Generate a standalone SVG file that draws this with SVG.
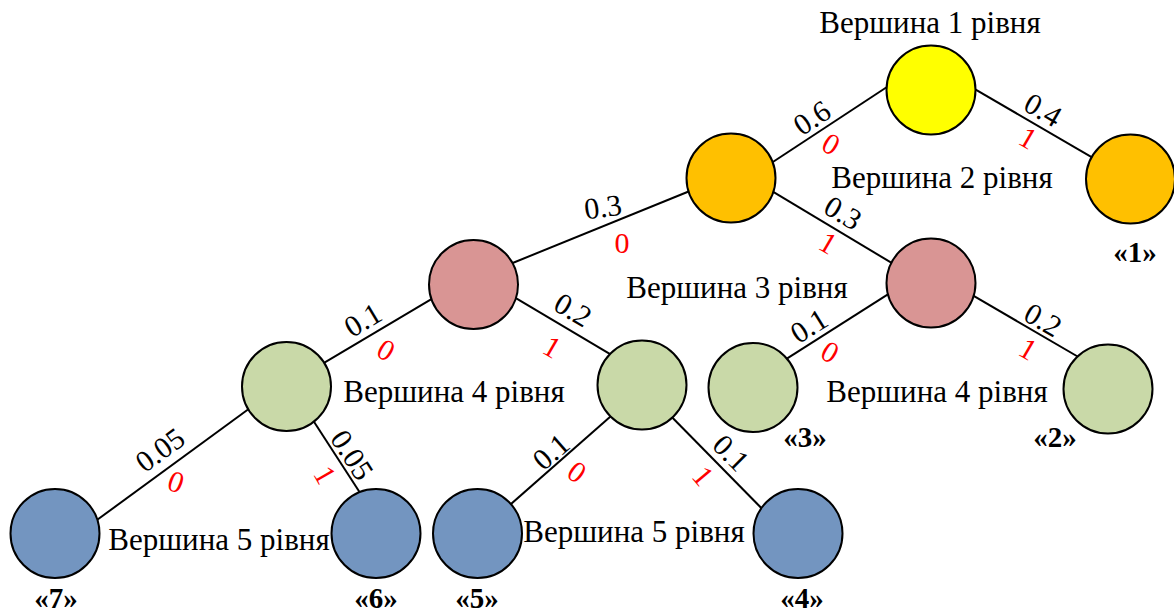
<svg xmlns="http://www.w3.org/2000/svg" width="1174" height="615" viewBox="0 0 1174 615">
  <rect width="1174" height="615" fill="#FFFFFF"/>

  <!-- tree edges -->
  <g id="connectors" stroke="#000000" stroke-width="2" fill="none">
    <line x1="890" y1="85" x2="768.3" y2="165"/>
    <line x1="970.1" y1="86.3" x2="1095.9" y2="159.7"/>
    <line x1="769.9" y1="189.9" x2="895.8" y2="265.4"/>
    <line x1="692.3" y1="190" x2="507.7" y2="265"/>
    <line x1="512.5" y1="296.2" x2="615.2" y2="357.1"/>
    <line x1="435.2" y1="296.9" x2="319.8" y2="365.4"/>
    <line x1="891.8" y1="291.8" x2="784.9" y2="359.9"/>
    <line x1="969.8" y1="293.7" x2="1081.9" y2="359"/>
    <line x1="252.1" y1="406.5" x2="94.5" y2="521.8"/>
    <line x1="311.7" y1="418.3" x2="362.6" y2="496.7"/>
    <line x1="612.2" y1="415" x2="507.2" y2="507.3"/>
    <line x1="669.8" y1="415" x2="764.2" y2="511"/>
  </g>

  <!-- edge weights -->
  <g id="weights" fill="#000000">
    <text font-family="Liberation Serif, serif" font-size="30" text-anchor="middle" transform="translate(812,118) rotate(-33)" y="10">0.6</text>
    <text font-family="Liberation Serif, serif" font-size="30" text-anchor="middle" transform="translate(1043,110) rotate(30)" y="10">0.4</text>
    <text font-family="Liberation Serif, serif" font-size="30" text-anchor="middle" transform="translate(603,207) rotate(-8)" y="10">0.3</text>
    <text font-family="Liberation Serif, serif" font-size="30" text-anchor="middle" transform="translate(843,213) rotate(31)" y="10">0.3</text>
    <text font-family="Liberation Serif, serif" font-size="30" text-anchor="middle" transform="translate(573,310) rotate(31)" y="10">0.2</text>
    <text font-family="Liberation Serif, serif" font-size="30" text-anchor="middle" transform="translate(363,320) rotate(-31)" y="10">0.1</text>
    <text font-family="Liberation Serif, serif" font-size="30" text-anchor="middle" transform="translate(809,326) rotate(-32)" y="10">0.1</text>
    <text font-family="Liberation Serif, serif" font-size="30" text-anchor="middle" transform="translate(1043,320) rotate(30)" y="10">0.2</text>
    <text font-family="Liberation Serif, serif" font-size="30" text-anchor="middle" transform="translate(160,450) rotate(-36)" y="10">0.05</text>
    <text font-family="Liberation Serif, serif" font-size="30" text-anchor="middle" transform="translate(352,455) rotate(57)" y="10">0.05</text>
    <text font-family="Liberation Serif, serif" font-size="30" text-anchor="middle" transform="translate(551,452) rotate(-41)" y="10">0.1</text>
    <text font-family="Liberation Serif, serif" font-size="30" text-anchor="middle" transform="translate(731,453) rotate(45)" y="10">0.1</text>
  </g>

  <!-- code bits -->
  <g id="bits" fill="#FF0000">
    <text font-family="Liberation Serif, serif" font-size="30" text-anchor="middle" transform="translate(831,144) rotate(30)" y="10">0</text>
    <text font-family="Liberation Serif, serif" font-size="30" text-anchor="middle" transform="translate(1028,138) rotate(30)" y="10">1</text>
    <text font-family="Liberation Serif, serif" font-size="30" text-anchor="middle" transform="translate(622,243)" y="10">0</text>
    <text font-family="Liberation Serif, serif" font-size="30" text-anchor="middle" transform="translate(828,243) rotate(30)" y="10">1</text>
    <text font-family="Liberation Serif, serif" font-size="30" text-anchor="middle" transform="translate(552,347) rotate(30)" y="10">1</text>
    <text font-family="Liberation Serif, serif" font-size="30" text-anchor="middle" transform="translate(386,350) rotate(30)" y="10">0</text>
    <text font-family="Liberation Serif, serif" font-size="30" text-anchor="middle" transform="translate(830,352) rotate(30)" y="10">0</text>
    <text font-family="Liberation Serif, serif" font-size="30" text-anchor="middle" transform="translate(1028,349) rotate(30)" y="10">1</text>
    <text font-family="Liberation Serif, serif" font-size="30" text-anchor="middle" transform="translate(176,482) rotate(20)" y="10">0</text>
    <text font-family="Liberation Serif, serif" font-size="30" text-anchor="middle" transform="translate(325,475) rotate(60)" y="10">1</text>
    <text font-family="Liberation Serif, serif" font-size="30" text-anchor="middle" transform="translate(577,472) rotate(35)" y="10">0</text>
    <text font-family="Liberation Serif, serif" font-size="30" text-anchor="middle" transform="translate(703,476) rotate(50)" y="10">1</text>
  </g>

  <!-- tree nodes, coloured by level -->
  <g id="nodes" stroke="#000000" stroke-width="2">
    <g id="node-root" fill="#FFFF00">
      <circle cx="931" cy="90" r="44.5"/>
    </g>
    <g id="node-2a" fill="#FFC000">
      <circle cx="731" cy="178" r="44.5"/>
    </g>
    <g id="node-2b" fill="#FFC000">
      <circle cx="1130.5" cy="179" r="44.5"/>
    </g>
    <g id="node-3a" fill="#D99594">
      <circle cx="473.5" cy="284.5" r="44.5"/>
    </g>
    <g id="node-3b" fill="#D99594">
      <circle cx="931" cy="283" r="44.5"/>
    </g>
    <g id="node-4a" fill="#C9D9A8">
      <circle cx="286.5" cy="386.5" r="44.5"/>
    </g>
    <g id="node-4b" fill="#C9D9A8">
      <circle cx="642" cy="385" r="44.5"/>
    </g>
    <g id="node-4c" fill="#C9D9A8">
      <circle cx="753" cy="387.5" r="44.5"/>
    </g>
    <g id="node-4d" fill="#C9D9A8">
      <circle cx="1108" cy="389" r="44.5"/>
    </g>
    <g id="node-5a" fill="#7395C0">
      <circle cx="55" cy="533.5" r="44.5"/>
    </g>
    <g id="node-5b" fill="#7395C0">
      <circle cx="376" cy="533.5" r="44.5"/>
    </g>
    <g id="node-5c" fill="#7395C0">
      <circle cx="477.5" cy="533.5" r="44.5"/>
    </g>
    <g id="node-5d" fill="#7395C0">
      <circle cx="798" cy="533.5" r="44.5"/>
    </g>
  </g>

  <!-- leaf symbols -->
  <g id="symbols" fill="#000000">
    <text font-family="Liberation Serif, serif" font-size="29" font-weight="bold" text-anchor="middle" x="1135" y="262">«1»</text>
    <text font-family="Liberation Serif, serif" font-size="29" font-weight="bold" text-anchor="middle" x="805" y="447">«3»</text>
    <text font-family="Liberation Serif, serif" font-size="29" font-weight="bold" text-anchor="middle" x="1055" y="447">«2»</text>
    <text font-family="Liberation Serif, serif" font-size="29" font-weight="bold" text-anchor="middle" x="56" y="608">«7»</text>
    <text font-family="Liberation Serif, serif" font-size="29" font-weight="bold" text-anchor="middle" x="376" y="608">«6»</text>
    <text font-family="Liberation Serif, serif" font-size="29" font-weight="bold" text-anchor="middle" x="477" y="608">«5»</text>
    <text font-family="Liberation Serif, serif" font-size="29" font-weight="bold" text-anchor="middle" x="802" y="608">«4»</text>
  </g>

  <!-- level captions -->
  <g id="captions" fill="#000000">
    <text font-family="Liberation Serif, serif" font-size="31" x="930" y="33" text-anchor="middle">Вершина 1 рівня</text>
    <text font-family="Liberation Serif, serif" font-size="31" x="942" y="188" text-anchor="middle">Вершина 2 рівня</text>
    <text font-family="Liberation Serif, serif" font-size="31" x="737" y="298" text-anchor="middle">Вершина 3 рівня</text>
    <text font-family="Liberation Serif, serif" font-size="31" x="454" y="402" text-anchor="middle">Вершина 4 рівня</text>
    <text font-family="Liberation Serif, serif" font-size="31" x="937" y="402" text-anchor="middle">Вершина 4 рівня</text>
    <text font-family="Liberation Serif, serif" font-size="31" x="219" y="550" text-anchor="middle">Вершина 5 рівня</text>
    <text font-family="Liberation Serif, serif" font-size="31" x="634" y="542" text-anchor="middle">Вершина 5 рівня</text>
  </g>
</svg>
